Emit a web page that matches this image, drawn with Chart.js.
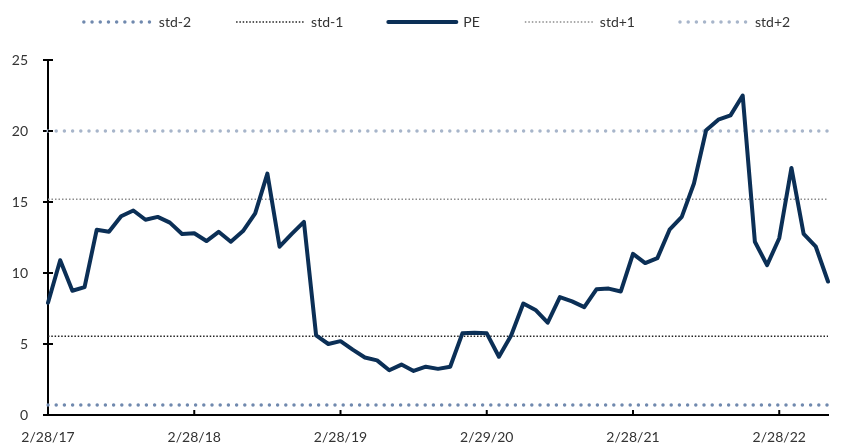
<!DOCTYPE html>
<html lang="en">

<head>
    <meta charset="UTF-8">
    <title>PE</title>
    <style>
        body { margin: 0; background: #fff; }
    </style>
</head>

<body>
    <canvas id="peCanvas" width="845" height="446"></canvas>

    <script src="https://cdn.jsdelivr.net/npm/chart.js@4.4.1/dist/chart.umd.min.js" charset="UTF-8"></script>
    <script>
        // month-end dates, Feb 2017 .. Jun 2022
        const labels = [
            '2/28/17', '3/31/17', '4/30/17', '5/31/17', '6/30/17', '7/31/17', '8/31/17', '9/30/17', '10/31/17', '11/30/17', '12/31/17',
            '1/31/18', '2/28/18', '3/31/18', '4/30/18', '5/31/18', '6/30/18', '7/31/18', '8/31/18', '9/30/18', '10/31/18', '11/30/18', '12/31/18',
            '1/31/19', '2/28/19', '3/31/19', '4/30/19', '5/31/19', '6/30/19', '7/31/19', '8/31/19', '9/30/19', '10/31/19', '11/30/19', '12/31/19',
            '1/31/20', '2/29/20', '3/31/20', '4/30/20', '5/31/20', '6/30/20', '7/31/20', '8/31/20', '9/30/20', '10/31/20', '11/30/20', '12/31/20',
            '1/31/21', '2/28/21', '3/31/21', '4/30/21', '5/31/21', '6/30/21', '7/31/21', '8/31/21', '9/30/21', '10/31/21', '11/30/21', '12/31/21',
            '1/31/22', '2/28/22', '3/31/22', '4/30/22', '5/31/22', '6/30/22'
        ];
        const tickLabels = ['2/28/17', '2/28/18', '2/28/19', '2/29/20', '2/28/21', '2/28/22'];

        const pe = [
            7.9, 10.9, 8.75, 9.0, 13.05, 12.9, 14.0, 14.4, 13.75, 13.95, 13.55, 12.75,
            12.8, 12.25, 12.9, 12.2, 12.95, 14.2, 17.0, 11.85, 12.75, 13.6, 5.6, 5.0,
            5.2, 4.6, 4.05, 3.85, 3.15, 3.55, 3.1, 3.4, 3.25, 3.4, 5.75, 5.8,
            5.75, 4.1, 5.6, 7.85, 7.4, 6.5, 8.3, 8.0, 7.6, 8.85, 8.9, 8.7,
            11.35, 10.7, 11.05, 13.05, 13.95, 16.3, 20.05, 20.8, 21.1, 22.5, 12.2, 10.55,
            12.45, 17.4, 12.75, 11.85, 9.4
        ];

        // std band levels: std-2, std-1, std+1, std+2
        const stdMinus2 = 0.7;
        const stdMinus1 = 5.55;
        const stdPlus1 = 15.2;
        const stdPlus2 = 20.0;

        const textColor = '#333333';
        const axisColor = '#000000';

        Chart.defaults.font.family = 'Lato';
        Chart.defaults.font.size = 14;
        Chart.defaults.color = textColor;

        function flat(v) {
            return labels.map(() => v);
        }

        // legend drawn as line samples, styled from the datasets
        const lineLegend = {
            id: 'lineLegend',
            afterDraw(chart) {
                const ctx = chart.ctx;
                const sets = chart.data.datasets;
                const boxW = 68, gap = 7, space = 45, y = 22;
                ctx.save();
                ctx.font = '14px Lato';
                const widths = sets.map(d => boxW + gap + ctx.measureText(d.label).width);
                const total = widths.reduce((a, b) => a + b, 0) + space * (sets.length - 1);
                let x = 437 - total / 2;
                sets.forEach((d, i) => {
                    ctx.beginPath();
                    ctx.lineWidth = d.borderWidth;
                    ctx.strokeStyle = d.borderColor;
                    ctx.lineCap = d.borderCapStyle || 'butt';
                    ctx.setLineDash(d.borderDash || []);
                    ctx.moveTo(x, y);
                    ctx.lineTo(x + boxW, y);
                    ctx.stroke();
                    ctx.setLineDash([]);
                    ctx.fillStyle = textColor;
                    ctx.textBaseline = 'middle';
                    ctx.fillText(d.label, x + boxW + gap, y);
                    x += widths[i] + space;
                });
                ctx.restore();
            }
        };

        // small tick marks on the inside of both axes
        const innerTicks = {
            id: 'innerTicks',
            afterDraw(chart) {
                const { ctx, chartArea, scales } = chart;
                ctx.save();
                ctx.strokeStyle = axisColor;
                ctx.lineWidth = 2;
                ctx.beginPath();
                scales.y.ticks.forEach(t => {
                    const py = scales.y.getPixelForValue(t.value);
                    ctx.moveTo(chartArea.left, py);
                    ctx.lineTo(chartArea.left + 5, py);
                });
                scales.x.ticks.forEach(t => {
                    if (tickLabels.includes(labels[t.value])) {
                        const px = scales.x.getPixelForValue(t.value);
                        ctx.moveTo(px, chartArea.bottom);
                        ctx.lineTo(px, chartArea.bottom - 5);
                    }
                });
                ctx.stroke();
                ctx.restore();
            }
        };

        const ctx = document.getElementById('peCanvas').getContext('2d');
        const peChart = new Chart(ctx, {
            type: 'line',
            data: {
                labels: labels,
                datasets: [{
                    label: 'std-2',
                    data: flat(stdMinus2),
                    borderColor: '#7089ae',
                    borderWidth: 3.5,
                    borderDash: [0, 8.2],
                    borderCapStyle: 'round',
                    order: 1
                }, {
                    label: 'std-1',
                    data: flat(stdMinus1),
                    borderColor: '#222222',
                    borderWidth: 1.5,
                    borderDash: [1.5, 1.8],
                    order: 1
                }, {
                    label: 'PE',
                    data: pe,
                    borderColor: '#0b2f56',
                    borderWidth: 4,
                    borderJoinStyle: 'round',
                    borderCapStyle: 'round',
                    order: 0
                }, {
                    label: 'std+1',
                    data: flat(stdPlus1),
                    borderColor: '#8c8c8c',
                    borderWidth: 1.5,
                    borderDash: [1.5, 2],
                    order: 1
                }, {
                    label: 'std+2',
                    data: flat(stdPlus2),
                    borderColor: '#a7b5ca',
                    borderWidth: 3.5,
                    borderDash: [0, 8.2],
                    borderCapStyle: 'round',
                    order: 1
                }]
            },
            options: {
                responsive: false,
                animation: false,
                layout: { padding: { top: 60, left: 12, right: 17, bottom: 0 } },
                elements: {
                    point: { radius: 0, hoverRadius: 0 },
                    line: { tension: 0, fill: false }
                },
                plugins: {
                    legend: { display: false },
                    tooltip: { enabled: false }
                },
                scales: {
                    x: {
                        offset: false,
                        border: { color: axisColor, width: 2 },
                        grid: { drawOnChartArea: false, drawTicks: false },
                        ticks: {
                            autoSkip: false,
                            maxRotation: 0,
                            padding: 14,
                            callback: function (value, index) {
                                return tickLabels.includes(labels[index]) ? labels[index] : null;
                            }
                        },
                        afterFit: function (scale) { scale.height = 31; }
                    },
                    y: {
                        min: 0,
                        max: 25,
                        border: { color: axisColor, width: 2 },
                        grid: { drawOnChartArea: false, drawTicks: true, tickLength: 5, color: axisColor, lineWidth: 2 },
                        ticks: { stepSize: 5, padding: 15 },
                        afterFit: function (scale) { scale.width = 36; }
                    }
                }
            },
            plugins: [lineLegend, innerTicks]
        });
    </script>
</body>

</html>
